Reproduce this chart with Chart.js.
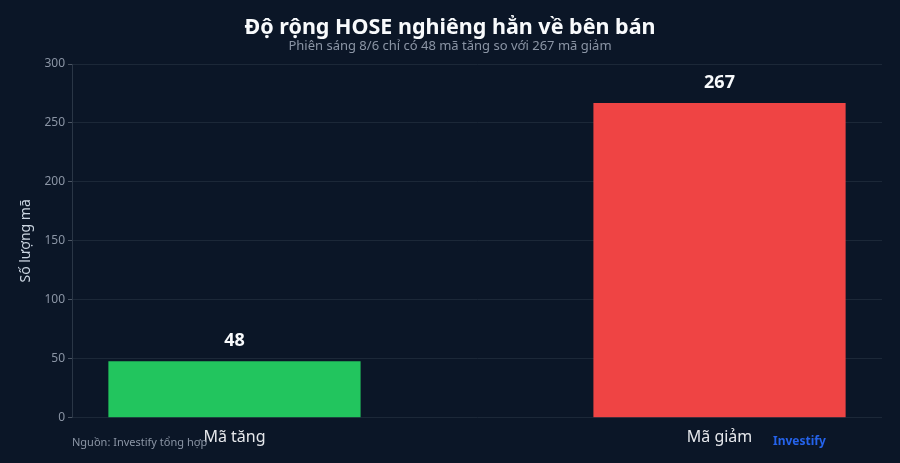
<!DOCTYPE html>
<html>
<head>
<meta charset="utf-8">
<script src="https://cdn.jsdelivr.net/npm/chart.js@4"></script>
<style>
  html, body { margin: 0; padding: 0; background: #0b1627; }
  #wrap { width: 900px; height: 463px; position: relative; }
</style>
</head>
<body>
<div id="wrap"><canvas id="breadth"></canvas></div>
<script>
// values
const categories = ['Mã tăng', 'Mã giảm'];
const counts = [48, 267];
const barColors = ['#22c55e', '#ef4444'];
const yTicks = [0, 50, 100, 150, 200, 250, 300];

const titleText = 'Độ rộng HOSE nghiêng hẳn về bên bán';
const subtitleText = 'Phiên sáng 8/6 chỉ có 48 mã tăng so với 267 mã giảm';
const sourceText = 'Nguồn: Investify tổng hợp';
const brandText = 'Investify';

const FONT = '"Noto Sans", "DejaVu Sans", sans-serif';

// header, bar values and footer drawn on the canvas
const decorations = {
  id: 'decorations',
  afterDraw(chart) {
    const ctx = chart.ctx;
    ctx.save();
    ctx.textAlign = 'center';
    ctx.textBaseline = 'middle';
    ctx.fillStyle = '#f8fafc';
    ctx.font = 'bold 21.5px ' + FONT;
    ctx.fillText(titleText, 450, 28);
    ctx.fillStyle = '#8b95a5';
    ctx.font = '13px ' + FONT;
    ctx.fillText(subtitleText, 450, 46);

    const meta = chart.getDatasetMeta(0);
    ctx.fillStyle = '#f8fafc';
    ctx.font = 'bold 18px ' + FONT;
    meta.data.forEach((bar, i) => {
      ctx.fillText(String(counts[i]), bar.x, bar.y - 20);
    });

    ctx.textAlign = 'left';
    ctx.fillStyle = '#8b95a5';
    ctx.font = '11px ' + FONT;
    ctx.fillText(sourceText, chart.chartArea.left, 443);
    ctx.fillStyle = '#2563eb';
    ctx.font = 'bold 12px ' + FONT;
    ctx.fillText(brandText, 773, 442);
    ctx.restore();
  }
};

const ctx = document.getElementById('breadth').getContext('2d');
const chart = new Chart(ctx, {
  type: 'bar',
  data: {
    datasets: [{
      data: categories.map((c, i) => ({ x: i, y: counts[i] })),
      backgroundColor: barColors,
      borderWidth: 0,
      categoryPercentage: 1,
      barPercentage: 0.52
    }]
  },
  options: {
    responsive: true,
    maintainAspectRatio: false,
    animation: false,
    layout: { padding: { top: 64, right: 18, bottom: 6, left: 18 } },
    plugins: {
      legend: { display: false },
      tooltip: { enabled: false }
    },
    scales: {
      x: {
        type: 'linear',
        offset: false,
        min: -0.335,
        max: 1.335,
        afterBuildTicks: (axis) => { axis.ticks = categories.map((c, i) => ({ value: i })); },
        ticks: {
          color: '#e5e7eb',
          font: { family: FONT, size: 16 },
          padding: 10,
          autoSkip: false,
          maxRotation: 0,
          callback: (v) => categories[v]
        },
        grid: { display: false, drawTicks: false, offset: false },
        border: { display: false }
      },
      y: {
        min: 0,
        max: 300,
        afterBuildTicks: (axis) => { axis.ticks = yTicks.map(v => ({ value: v })); },
        afterFit: (axis) => { axis.width = 54; },
        title: {
          display: true,
          text: 'Số lượng mã',
          color: '#cbd5e1',
          font: { family: FONT, size: 14 },
          padding: { top: 0, bottom: 4 }
        },
        ticks: {
          color: '#8b95a5',
          font: { family: FONT, size: 12 },
          padding: 3
        },
        grid: {
          color: '#1c2838',
          tickColor: '#4b5563',
          tickLength: 4,
          drawTicks: true
        },
        border: { display: true, color: '#2a3646' }
      }
    }
  },
  plugins: [decorations]
});
</script>
</body>
</html>
